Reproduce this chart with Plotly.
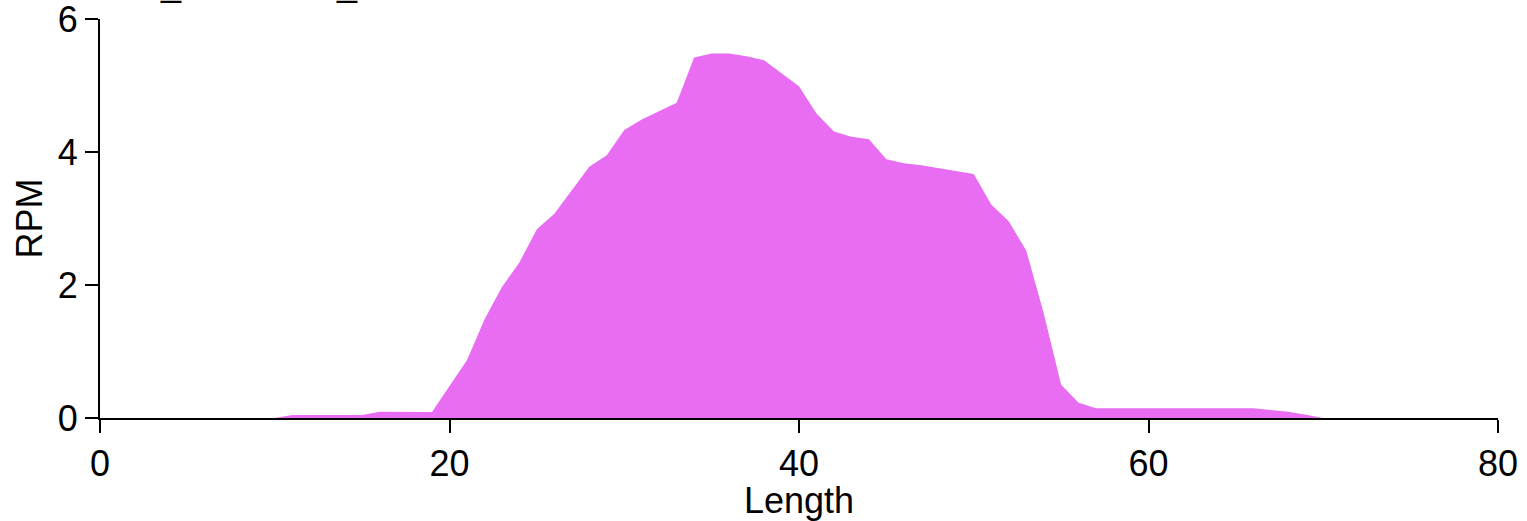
import plotly.graph_objects as go

lengths = list(range(10, 71))
rpm = [0.0, 0.045, 0.045, 0.045, 0.045, 0.045, 0.095, 0.095, 0.09, 0.09,
       0.48, 0.87, 1.48, 1.97, 2.34, 2.84, 3.07, 3.42, 3.78, 3.95,
       4.33, 4.49, 4.62, 4.74, 5.42, 5.48, 5.48, 5.44, 5.38, 5.19,
       4.99, 4.58, 4.31, 4.23, 4.19, 3.89, 3.83, 3.80, 3.76, 3.72,
       3.67, 3.21, 2.96, 2.52, 1.58, 0.50, 0.23, 0.146, 0.146, 0.146,
       0.146, 0.146, 0.146, 0.146, 0.146, 0.146, 0.146, 0.12, 0.095, 0.05,
       0.0]
x_ticks = [0, 20, 40, 60, 80]
y_ticks = [0, 2, 4, 6]
title_text = "WT_RPF-read_counts"

FONT = "Liberation Sans, Arial, sans-serif"

fig = go.Figure()
fig.add_trace(go.Scatter(
    x=lengths, y=rpm, mode="lines", fill="tozeroy",
    line=dict(width=0, color="#E86DF2"), fillcolor="#E86DF2",
    showlegend=False, hoverinfo="x+y",
))

axis_common = dict(
    showgrid=False, zeroline=False, showline=True, linecolor="black", linewidth=2,
    ticks="outside", ticklen=13, tickwidth=2, tickcolor="black",
    tickfont=dict(family=FONT, size=36, color="black"),
    ticklabeloverflow="allow",
)

fig.update_layout(
    width=1527, height=521,
    margin=dict(l=100, r=29, t=19, b=103, autoexpand=False),
    plot_bgcolor="white", paper_bgcolor="white",
    xaxis=dict(range=[0, 80], tickvals=x_ticks, **axis_common,
               title=dict(text="Length", font=dict(family=FONT, size=36, color="black"), standoff=0)),
    yaxis=dict(range=[0, 6], tickvals=y_ticks, **axis_common,
               title=dict(text="RPM", font=dict(family=FONT, size=36, color="black"), standoff=4)),
    annotations=[dict(
        text=title_text, xref="paper", yref="paper", x=0.002, y=1.09,
        xanchor="left", yanchor="middle", showarrow=False,
        font=dict(family=FONT, size=36, color="black"),
    )],
)

fig.write_html("out.html", config={"displayModeBar": False},
               post_script="document.body.style.margin='0';document.body.style.overflow='hidden';")
